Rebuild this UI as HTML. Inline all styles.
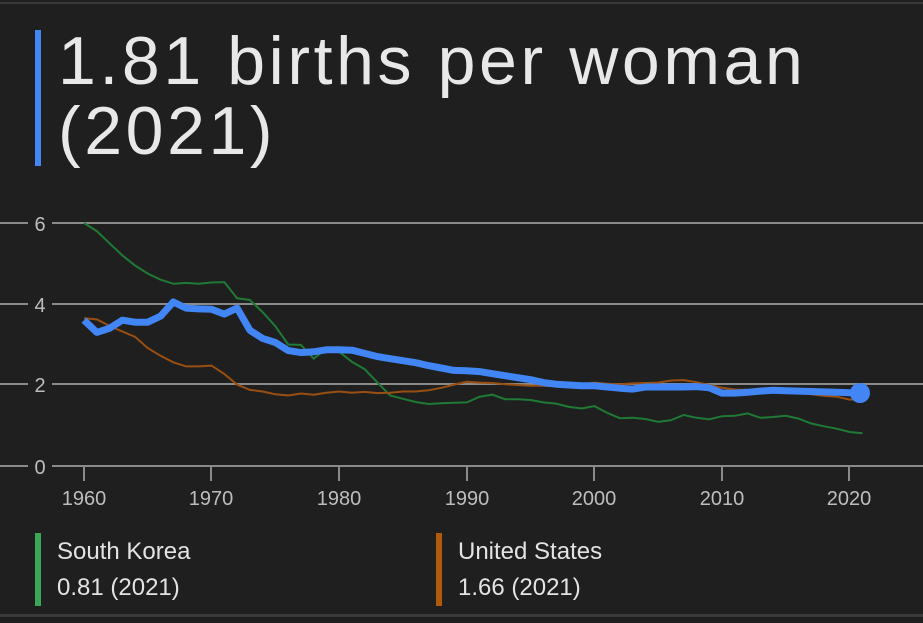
<!DOCTYPE html>
<html><head><meta charset="utf-8"><style>
html,body{margin:0;padding:0;background:#1f1f1f;width:923px;height:623px;overflow:hidden}
body{position:relative;font-family:"Liberation Sans",sans-serif}
.title{position:absolute;left:58px;top:26px;color:#e8e8e8;font-size:68px;line-height:70px;font-weight:300;letter-spacing:3.6px;white-space:nowrap}
.bar{position:absolute;width:6px}
.lg{position:absolute;color:#e3e3e3;font-size:24px;line-height:36px}
</style></head><body>
<div style="position:absolute;left:0;top:2px;width:923px;height:2px;background:#3a3a3a"></div>
<div style="position:absolute;left:0;top:614px;width:923px;height:3px;background:#3a3a3a"></div>
<div class="bar" style="left:35px;top:30px;height:136px;background:#4285f4"></div>
<div class="title">1.81 births per woman<br>(2021)</div>
<svg id="c" width="923" height="623" style="position:absolute;left:0;top:0">
<g stroke="#8a8a8a" stroke-width="2">
<line x1="0" y1="223" x2="28" y2="223"/><line x1="52" y1="223" x2="923" y2="223"/>
<line x1="0" y1="304" x2="28" y2="304"/><line x1="52" y1="304" x2="923" y2="304"/>
<line x1="0" y1="384" x2="28" y2="384"/><line x1="52" y1="384" x2="923" y2="384"/>
<line x1="0" y1="466" x2="28" y2="466"/><line x1="52" y1="466" x2="923" y2="466"/>
<line x1="84" y1="466" x2="84" y2="481"/><line x1="211" y1="466" x2="211" y2="481"/><line x1="339" y1="466" x2="339" y2="481"/><line x1="467" y1="466" x2="467" y2="481"/><line x1="594" y1="466" x2="594" y2="481"/><line x1="722" y1="466" x2="722" y2="481"/><line x1="849" y1="466" x2="849" y2="481"/>
</g>
<g fill="#bdbdbd" font-size="20" font-family="Liberation Sans,sans-serif" text-anchor="middle">
<text x="40" y="231">6</text><text x="40" y="312">4</text><text x="40" y="392">2</text><text x="40" y="474">0</text>
<text x="84" y="505">1960</text><text x="211" y="505">1970</text><text x="339" y="505">1980</text><text x="467" y="505">1990</text><text x="594" y="505">2000</text><text x="722" y="505">2010</text><text x="849" y="505">2020</text>
</g>
<polyline id="kr" fill="none" stroke="#1e7a35" stroke-width="2"/>
<polyline id="us" fill="none" stroke="#9a4f12" stroke-width="2"/>
<polyline id="fr" fill="none" stroke="#4285f4" stroke-width="7" stroke-linejoin="round"/>
<circle cx="860" cy="393" r="10" fill="#4285f4"/>
</svg>
<div class="bar" style="left:35px;top:533px;height:73px;background:#3aa757"></div>
<div class="lg" style="left:57px;top:534px">South Korea<br>0.81 (2021)</div>
<div class="bar" style="left:436px;top:533px;height:73px;background:#b05a0c"></div>
<div class="lg" style="left:458px;top:534px">United States<br>1.66 (2021)</div>
<script>
var fr=[3.6,3.3,3.4,3.6,3.55,3.55,3.7,4.05,3.9,3.88,3.87,3.75,3.9,3.35,3.15,3.05,2.85,2.8,2.82,2.87,2.87,2.86,2.78,2.7,2.65,2.6,2.55,2.48,2.42,2.36,2.35,2.33,2.28,2.23,2.18,2.13,2.06,2.02,2.0,1.98,1.98,1.95,1.92,1.9,1.95,1.95,1.95,1.95,1.96,1.93,1.8,1.8,1.82,1.85,1.87,1.86,1.85,1.84,1.83,1.82,1.81,1.81];
var kr=[6.0,5.8,5.5,5.2,4.95,4.75,4.6,4.5,4.52,4.5,4.53,4.54,4.14,4.1,3.8,3.45,3.0,2.99,2.65,2.9,2.82,2.57,2.39,2.06,1.74,1.66,1.58,1.53,1.55,1.56,1.57,1.71,1.76,1.65,1.65,1.63,1.57,1.54,1.46,1.42,1.48,1.31,1.18,1.19,1.16,1.09,1.13,1.26,1.19,1.15,1.23,1.24,1.30,1.19,1.21,1.24,1.17,1.05,0.98,0.92,0.84,0.81];
var us=[3.65,3.62,3.46,3.32,3.19,2.91,2.72,2.56,2.46,2.46,2.48,2.27,2.01,1.88,1.84,1.77,1.74,1.79,1.76,1.81,1.84,1.81,1.83,1.80,1.81,1.84,1.84,1.87,1.93,2.01,2.08,2.06,2.05,2.02,2.0,1.98,1.98,1.97,2.0,2.01,2.06,2.03,2.02,2.04,2.05,2.06,2.11,2.12,2.07,2.0,1.93,1.89,1.88,1.86,1.86,1.84,1.82,1.77,1.73,1.71,1.64,1.66];
function p(a){return a.map(function(v,i){return (84+i*12.76).toFixed(1)+","+(466-v*40.5).toFixed(1)}).join(" ")}
document.getElementById("fr").setAttribute("points",p(fr));
document.getElementById("kr").setAttribute("points",p(kr));
document.getElementById("us").setAttribute("points",p(us));
</script>
</body></html>
